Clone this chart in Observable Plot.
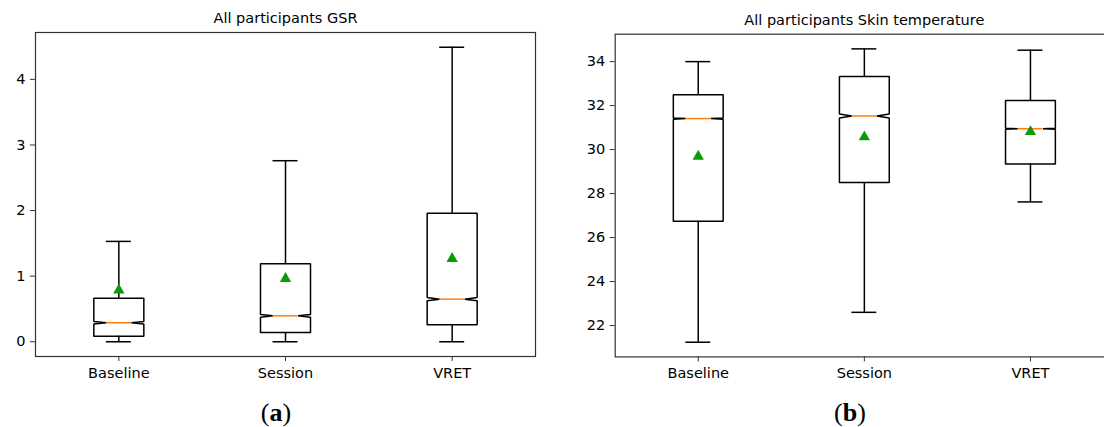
<!DOCTYPE html>
<html><head><meta charset="utf-8">
<script src="https://cdn.jsdelivr.net/npm/d3@7"></script>
<script src="https://cdn.jsdelivr.net/npm/@observablehq/plot@0.6"></script>
<style>
html,body{margin:0;padding:0;background:#fff;}
#wrap{position:relative;width:1104px;height:427px;overflow:hidden;font-family:"DejaVu Sans",sans-serif;background:#fff;}
.panel{position:absolute;top:0;}
.cap{position:absolute;font-family:"Liberation Serif",serif;font-size:26px;transform:translateX(-50%);line-height:1;white-space:nowrap;color:#000;}
</style></head><body>
<div id="wrap">
  <div id="pa" class="panel" style="left:0px;width:552px"></div>
  <div id="pb" class="panel" style="left:552px;width:580px"></div>
  <div class="cap" style="left:276px;top:400px">(<b>a</b>)</div>
  <div class="cap" style="left:850px;top:400px">(<b>b</b>)</div>
</div>
<script>
// ---- data ----
const categories = ["Baseline", "Session", "VRET"];

const gsrTitle = "All participants GSR";
const gsrWhiskerLow  = [0, 0, 0];
const gsrQ1          = [0.085, 0.14, 0.26];
const gsrMedian      = [0.29, 0.395, 0.65];
const gsrQ3          = [0.665, 1.19, 1.96];
const gsrWhiskerHigh = [1.53, 2.76, 4.49];
const gsrMean        = [0.81, 0.985, 1.29];
const gsrNotch       = [0.02, 0.02, 0.025];
const gsrTicks       = [0, 1, 2, 3, 4];

const skinTitle = "All participants Skin temperature";
const skinWhiskerLow  = [21.24, 22.6, 27.62];
const skinQ1          = [26.74, 28.5, 29.35];
const skinMedian      = [31.41, 31.53, 30.95];
const skinQ3          = [32.49, 33.32, 32.23];
const skinWhiskerHigh = [34.0, 34.58, 34.52];
const skinMean        = [29.76, 30.64, 30.88];
const skinNotch       = [0.025, 0.09, 0.025];
const skinTicks       = [22, 24, 26, 28, 30, 32, 34];

// ---- drawing ----
const BOX_HALF = 0.15, MED_HALF = 0.075, CAP_HALF = 0.075;

function boxPanel({title, lo, q1, med, q3, hi, mean, notch, ticks, width, height, margins}) {
  const rows = categories.map((c, i) => ({cat: c, pos: i + 1, lo: lo[i], q1: q1[i], med: med[i], q3: q3[i], hi: hi[i], mean: mean[i], n: notch[i]}));
  const outline = rows.flatMap(r => [
    [r.pos - BOX_HALF, r.q1], [r.pos + BOX_HALF, r.q1], [r.pos + BOX_HALF, r.med - r.n],
    [r.pos + MED_HALF, r.med], [r.pos + BOX_HALF, r.med + r.n], [r.pos + BOX_HALF, r.q3],
    [r.pos - BOX_HALF, r.q3], [r.pos - BOX_HALF, r.med + r.n], [r.pos - MED_HALF, r.med],
    [r.pos - BOX_HALF, r.med - r.n], [r.pos - BOX_HALF, r.q1]
  ].map(([x, y]) => ({cat: r.cat, x, y})));
  const ymin = d3.min(lo), ymax = d3.max(hi), pad = (ymax - ymin) * 0.05;
  return Plot.plot({
    width, height, ...margins,
    style: {background: "#fff", color: "#000", fontFamily: "DejaVu Sans, sans-serif", maxWidth: "none", overflow: "visible"},
    x: {type: "linear", domain: [0.5, 3.5], label: null},
    y: {domain: [ymin - pad, ymax + pad], label: null},
    marks: [
      Plot.ruleX(rows, {x: "pos", y1: "q3", y2: "hi", stroke: "#000", strokeWidth: 1.5}),
      Plot.ruleX(rows, {x: "pos", y1: "lo", y2: "q1", stroke: "#000", strokeWidth: 1.5}),
      Plot.ruleY(rows, {y: "hi", x1: d => d.pos - CAP_HALF, x2: d => d.pos + CAP_HALF, stroke: "#000", strokeWidth: 1.5}),
      Plot.ruleY(rows, {y: "lo", x1: d => d.pos - CAP_HALF, x2: d => d.pos + CAP_HALF, stroke: "#000", strokeWidth: 1.5}),
      Plot.line(outline, {x: "x", y: "y", z: "cat", stroke: "#000", strokeWidth: 1.5, strokeLinejoin: "miter", fill: "none"}),
      Plot.ruleY(rows, {y: "med", x1: d => d.pos - MED_HALF, x2: d => d.pos + MED_HALF, stroke: "#ff7f0e", strokeWidth: 1.5}),
      Plot.dot(rows, {x: "pos", y: "mean", symbol: "triangle", r: 4.2, fill: "#0a9a0a", stroke: "none", dy: 1.5}),
      Plot.frame({stroke: "#333", strokeWidth: 1.2}),
      Plot.axisY(ticks, {tickSize: 5, tickPadding: 5, fontSize: 14.5, label: null, stroke: "#333", tickFormat: d => String(d)}),
      Plot.axisX([1, 2, 3], {tickSize: 5, tickPadding: 6, fontSize: 14.5, label: null, tickFormat: d => categories[d - 1], stroke: "#333"}),
      Plot.text([title], {frameAnchor: "top", dy: -14, lineAnchor: "middle", fontSize: 14.5, fill: "#000"})
    ]
  });
}

document.getElementById("pa").append(boxPanel({
  title: gsrTitle, lo: gsrWhiskerLow, q1: gsrQ1, med: gsrMedian, q3: gsrQ3, hi: gsrWhiskerHigh,
  mean: gsrMean, notch: gsrNotch, ticks: gsrTicks, width: 552, height: 390,
  margins: {marginLeft: 35, marginRight: 17, marginTop: 32, marginBottom: 34}
}));
document.getElementById("pb").append(boxPanel({
  title: skinTitle, lo: skinWhiskerLow, q1: skinQ1, med: skinMedian, q3: skinQ3, hi: skinWhiskerHigh,
  mean: skinMean, notch: skinNotch, ticks: skinTicks, width: 580, height: 390,
  margins: {marginLeft: 62.7, marginRight: 19, marginTop: 33.7, marginBottom: 33.6}
}));
</script>
</body></html>
